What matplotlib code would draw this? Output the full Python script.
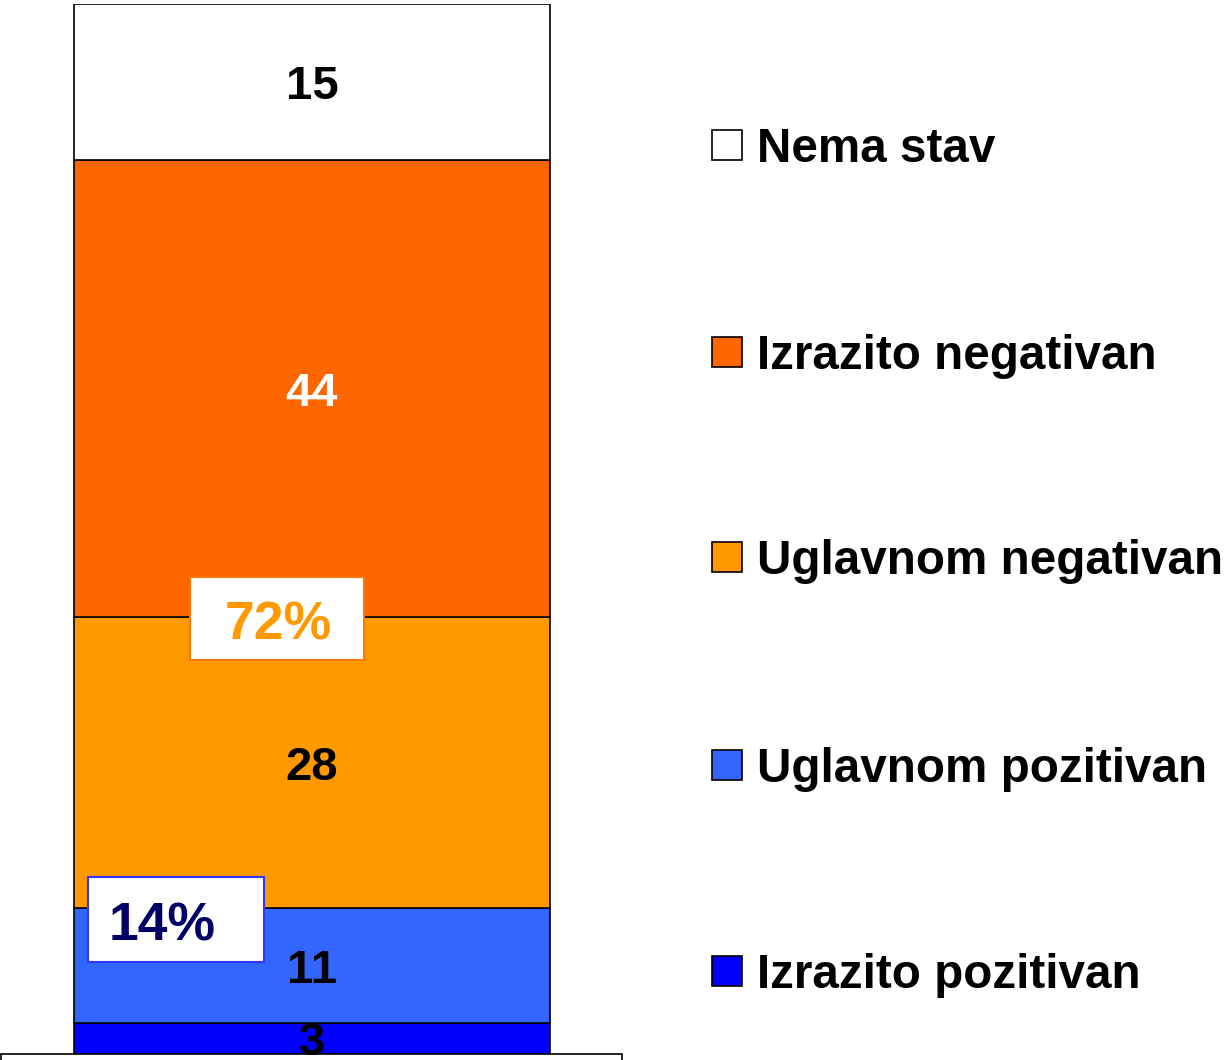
import matplotlib
matplotlib.use("Agg")
import matplotlib.pyplot as plt
from matplotlib.patches import Rectangle

categories = ["Izrazito pozitivan", "Uglavnom pozitivan", "Uglavnom negativan", "Izrazito negativan", "Nema stav"]
values = [3, 11, 28, 44, 15]
colors = ["#0000FF", "#3366FF", "#FF9900", "#FF6600", "#FFFFFF"]
label_colors = ["black", "black", "black", "white", "black"]
summary_labels = ["72%", "14%"]

W, H = 1226, 1060
fig = plt.figure(figsize=(W / 100, H / 100), dpi=100)
plt.rcParams['font.family'] = ['Liberation Sans', 'DejaVu Sans']

def fx(px):
    return px / W

def fy(py):
    return 1 - py / H

ax = fig.add_axes([fx(1), fy(1054), fx(622) - fx(1), fy(4) - fy(1054)])
ax.set_xlim(0, 1)
ax.set_ylim(0, sum(values))

LBL_FS = 34
bottom = 0
xc = (312 - 1) / 621
for v, c, lc in zip(values, colors, label_colors):
    ax.bar(xc, v, width=476 / 621, bottom=bottom, color=c, edgecolor="black", linewidth=1.2, zorder=2)
    ax.annotate(str(v), (xc, bottom + v / 2), xytext=(0, -0.36 * LBL_FS),
                textcoords="offset points", ha="center", va="baseline",
                fontsize=LBL_FS, fontweight="bold", color=lc, zorder=4,
                annotation_clip=False)
    bottom += v

for s in ["left", "right", "top"]:
    ax.spines[s].set_visible(False)
ax.spines["bottom"].set_linewidth(1.2)
ax.set_xticks([0, 1])
ax.set_xticklabels([])
ax.tick_params(axis="x", direction="out", length=5, width=1.2)
ax.set_yticks([])

# summary boxes
PCT_FS = 38.5
boxes = [
    (190, 577, 364, 660, "#FF9900", "#FF7700", 278),
    (88, 877, 264, 962, "#000066", "#3333FF", 162),
]
for (x0, y0, x1, y1, tc, ec, tx), lab in zip(boxes, summary_labels):
    fig.patches.append(Rectangle((fx(x0), fy(y1)), fx(x1) - fx(x0), fy(y0) - fy(y1),
                                 transform=fig.transFigure, facecolor="white",
                                 edgecolor=ec, linewidth=1.5, zorder=5))
    yc = (y0 + y1) / 2 + 2
    fig.text(fx(tx), fy(yc + 0.36 * PCT_FS * 100 / 72), lab, ha="center", va="baseline",
             fontsize=PCT_FS, fontweight="bold", color=tc, zorder=6)

# legend
LEG_FS = 34.3
legend_y = [971, 765, 557, 352, 145]
for cat, c, ly in zip(categories, colors, legend_y):
    fig.patches.append(Rectangle((fx(712), fy(ly + 15)), fx(30), 30 / H,
                                 transform=fig.transFigure, facecolor=c,
                                 edgecolor="black", linewidth=1.2))
    fig.text(fx(757), fy(ly + 0.36 * LEG_FS * 100 / 72), cat, ha="left", va="baseline",
             fontsize=LEG_FS, fontweight="bold", color="black")

fig.savefig("out.png", dpi=100)
